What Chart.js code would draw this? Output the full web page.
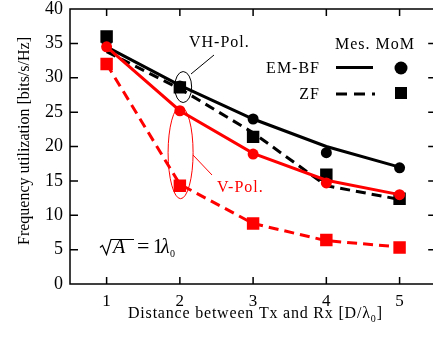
<!DOCTYPE html>
<html>
<head>
<meta charset="utf-8">
<script src="https://cdn.jsdelivr.net/npm/chart.js@4.4.1/dist/chart.umd.min.js"></script>
<style>
  html, body { margin: 0; padding: 0; background: #fff; overflow: hidden; }
  #wrap { position: relative; width: 445px; height: 338px; }
</style>
</head>
<body>
<div id="wrap"><canvas id="chart"></canvas></div>
<script>
"use strict";

const distances = [1, 2, 3, 4, 5];
const xTicks = [1, 2, 3, 4, 5];
const yTicks = [0, 5, 10, 15, 20, 25, 30, 35, 40];

// VH-Pol. (black): measured lines, MoM markers
const vhEmbfMes = [34.5, 28.9, 24.0, 20.0, 17.0];
const vhEmbfMom = [35.3, 28.8, 24.0, 19.1, 16.9];
const vhZfMes = [33.8, 28.4, 22.0, 14.3, 12.3];
const vhZfMom = [36.0, 28.6, 21.4, 15.9, 12.4];

// V-Pol. (red)
const vEmbfMes = [34.5, 25.2, 19.0, 15.1, 13.0];
const vEmbfMom = [34.5, 25.2, 18.9, 14.7, 13.0];
const vZfMes = [32.0, 14.5, 8.8, 6.3, 5.4];
const vZfMom = [32.0, 14.3, 8.8, 6.4, 5.3];

const RED = "#ff0000";
const BLACK = "#000000";
const SERIF = "'Liberation Serif', 'Times New Roman', serif";
const DASH = [10, 6];

const pts = (ys) => distances.map((x, i) => ({ x, y: ys[i] }));

const lineSet = (ys, color, dashed, order) => ({
  data: pts(ys), borderColor: color, borderWidth: 3, borderDash: dashed ? DASH : [],
  pointRadius: 0, showLine: true, fill: false, tension: 0, order,
});
const markSet = (ys, color, style, order) => ({
  data: pts(ys), showLine: false, pointStyle: style,
  pointRadius: style === "rect" ? 8.8 : 5.5, pointBackgroundColor: color,
  pointBorderColor: color, pointBorderWidth: 0, order,
});

Chart.defaults.font.family = SERIF;
Chart.defaults.font.size = 18;
Chart.defaults.color = "#000";

function text(ctx, str, x, y, opts = {}) {
  ctx.save();
  ctx.font = opts.font || `16px ${SERIF}`;
  ctx.fillStyle = opts.color || "#000";
  ctx.textAlign = opts.align || "left";
  ctx.textBaseline = "alphabetic";
  ctx.letterSpacing = opts.spacing || "1px";
  ctx.fillText(str, x, y);
  const w = ctx.measureText(str).width;
  ctx.restore();
  return w;
}

const decor = {
  id: "decor",
  afterDatasetsDraw(chart) {
    const { ctx, chartArea: a, scales: { x, y } } = chart;
    ctx.save();

    // frame with inward ticks
    ctx.strokeStyle = "#000";
    ctx.lineWidth = 1.5;
    ctx.strokeRect(a.left, a.top, a.right - a.left, a.bottom - a.top);
    ctx.beginPath();
    for (const v of xTicks) {
      const px = x.getPixelForValue(v);
      ctx.moveTo(px, a.bottom); ctx.lineTo(px, a.bottom - 7);
      ctx.moveTo(px, a.top); ctx.lineTo(px, a.top + 7);
    }
    for (const v of yTicks.slice(1, -1)) {
      const py = y.getPixelForValue(v);
      ctx.moveTo(a.left, py); ctx.lineTo(a.left + 8, py);
      ctx.moveTo(a.right, py); ctx.lineTo(a.right - 8, py);
    }
    ctx.stroke();

    // VH-Pol. annotation
    ctx.lineWidth = 1;
    ctx.beginPath();
    ctx.ellipse(x.getPixelForValue(2.045), y.getPixelForValue(28.65), 8.5, 15.5, 0, 0, Math.PI * 2);
    ctx.moveTo(191, 74); ctx.lineTo(214, 55);
    ctx.stroke();
    text(ctx, "VH-Pol.", 189, 47);

    // V-Pol. annotation
    ctx.strokeStyle = RED;
    ctx.beginPath();
    ctx.ellipse(x.getPixelForValue(2.01), y.getPixelForValue(19.1), 12.5, 46, 0, 0, Math.PI * 2);
    ctx.moveTo(193, 155); ctx.lineTo(212, 175);
    ctx.stroke();
    text(ctx, "V-Pol.", 217, 192, { color: RED });

    // legend
    text(ctx, "Mes. MoM", 335, 49);
    text(ctx, "EM-BF", 320, 73, { align: "right" });
    text(ctx, "ZF", 320, 99, { align: "right" });
    ctx.strokeStyle = BLACK;
    ctx.lineWidth = 3;
    ctx.beginPath(); ctx.moveTo(336, 67.5); ctx.lineTo(373, 67.5); ctx.stroke();
    ctx.setLineDash([11, 7]);
    ctx.beginPath(); ctx.moveTo(336, 94); ctx.lineTo(375, 94); ctx.stroke();
    ctx.setLineDash([]);
    ctx.fillStyle = BLACK;
    ctx.beginPath(); ctx.arc(401, 68, 6.5, 0, Math.PI * 2); ctx.fill();
    ctx.fillRect(395, 87, 12, 12);

    // sqrt(A) = 1 lambda_0
    ctx.lineWidth = 1.2;
    ctx.beginPath();
    ctx.moveTo(100, 247.5); ctx.lineTo(102.5, 245.5); ctx.lineTo(106.5, 254.5);
    ctx.lineTo(111, 239.5); ctx.lineTo(134, 239.5);
    ctx.stroke();
    const mf = `20px ${SERIF}`;
    const mi = `italic 20px ${SERIF}`;
    text(ctx, "A", 113, 253, { font: mi, spacing: "2px" });
    text(ctx, "=", 137, 253, { font: `22px ${SERIF}`, spacing: "0px" });
    text(ctx, "1", 153, 253, { font: mf, spacing: "0px" });
    text(ctx, "\u03bb", 161, 253, { font: mi, spacing: "0px" });
    text(ctx, "0", 170, 257, { font: `10px ${SERIF}`, spacing: "0px" });

    // axis titles
    let cx = 128;
    cx += text(ctx, "Distance between Tx and Rx [D/\u03bb", cx, 318, { spacing: "0.8px" });
    cx += text(ctx, "0", cx, 322, { font: `10px ${SERIF}`, spacing: "0px" });
    text(ctx, "]", cx + 1, 318);

    ctx.save();
    ctx.translate(24.5, 141);
    ctx.rotate(-Math.PI / 2);
    ctx.font = `16px ${SERIF}`;
    ctx.fillStyle = "#000";
    ctx.textAlign = "center";
    ctx.textBaseline = "middle";
    ctx.fillText("Frequency utilization [bits/s/Hz]", 0, 0);
    ctx.restore();

    ctx.restore();
  },
};

new Chart(document.getElementById("chart"), {
  type: "scatter",
  data: {
    datasets: [
      markSet(vEmbfMom, RED, "circle", 0),
      markSet(vZfMom, RED, "rect", 0),
      lineSet(vEmbfMes, RED, false, 1),
      lineSet(vZfMes, RED, true, 1),
      markSet(vhEmbfMom, BLACK, "circle", 2),
      markSet(vhZfMom, BLACK, "rect", 2),
      lineSet(vhEmbfMes, BLACK, false, 3),
      lineSet(vhZfMes, BLACK, true, 3),
    ],
  },
  options: {
    responsive: true,
    maintainAspectRatio: false,
    animation: false,
    layout: { padding: { top: 9, right: 6, left: 0, bottom: 0 } },
    plugins: { legend: { display: false }, tooltip: { enabled: false } },
    scales: {
      x: {
        type: "linear", min: 0.5, max: 5.5,
        afterBuildTicks: (s) => { s.ticks = xTicks.map((value) => ({ value })); },
        afterFit: (s) => { s.height = 54; s.paddingLeft = 0; s.paddingRight = 0; },
        grid: { display: false, drawTicks: false, tickLength: 0 }, border: { display: false },
        ticks: { padding: 7, font: { size: 17 } },
      },
      y: {
        min: 0, max: 40,
        afterBuildTicks: (s) => { s.ticks = yTicks.map((value) => ({ value })); },
        afterFit: (s) => { s.width = 70; s.paddingTop = 0; s.paddingBottom = 0; },
        grid: { display: false, drawTicks: false, tickLength: 0 }, border: { display: false },
        ticks: { padding: 7 },
      },
    },
  },
  plugins: [decor],
});
</script>
</body>
</html>
